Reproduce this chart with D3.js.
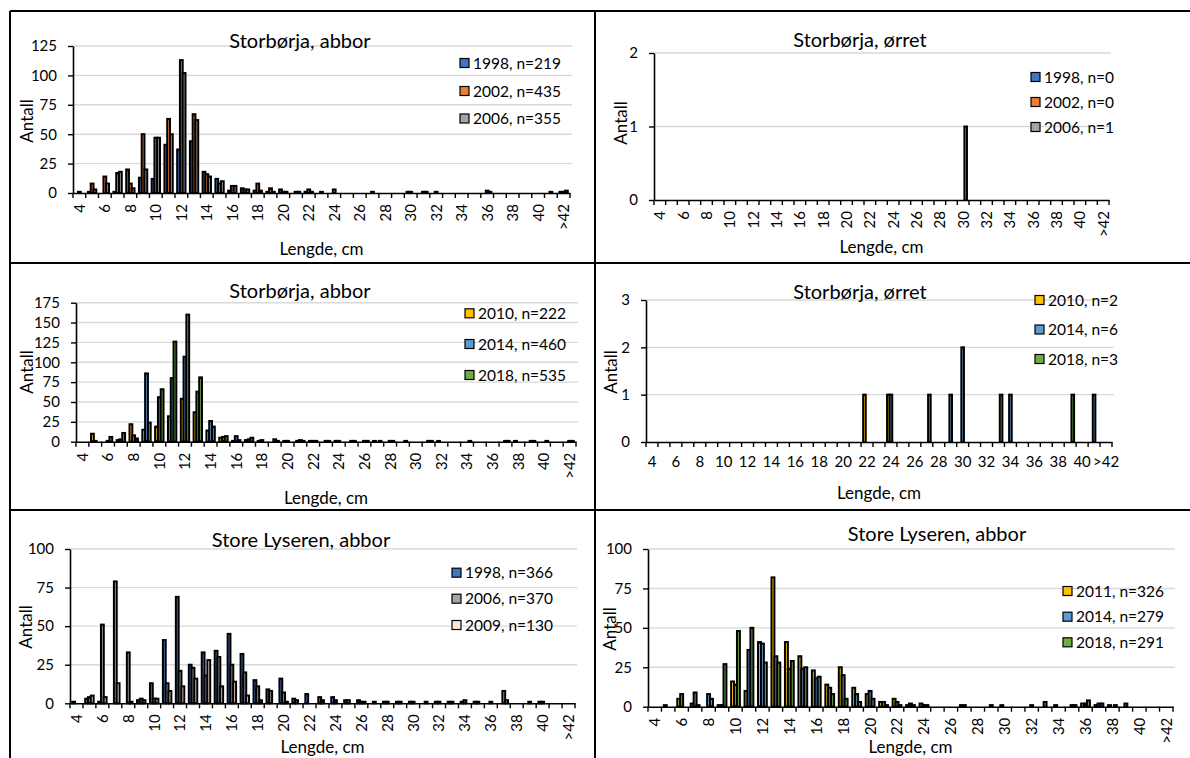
<!DOCTYPE html>
<html><head><meta charset="utf-8">
<script src="https://cdn.jsdelivr.net/npm/d3@7"></script>
<style>
body{margin:0;background:#fff;overflow:hidden;}
text{font-family:Lato,"Open Sans",sans-serif;fill:#000;}
</style></head><body>
<svg id="c" width="1190" height="758"></svg>
<script>
// ---------- DATA ----------
const categories = ["4","5","6","7","8","9","10","11","12","13","14","15","16","17","18","19","20","21","22","23","24","25","26","27","28","29","30","31","32","33","34","35","36","37","38","39","40","41",">42"];
const xTickLabels = ["4","6","8","10","12","14","16","18","20","22","24","26","28","30","32","34","36","38","40",">42"];

// Storbørja, abbor (1998/2002/2006)
const sbAbbor1998 = [0,1,0,1,20,13,12,41,37,44, 18,12,2,4,2,1,3,0,1,0, 0,0,0,0,0,0,1,0,0,0, 0,0,0,0,0,0,0,0,1];
const sbAbbor2002 = [1,8,14,17,8,50,47,63,113,67, 16,8,6,3,8,4,1,1,3,1, 3,0,0,1,0,0,1,1,1,0, 0,0,2,0,0,0,0,1,1];
const sbAbbor2006 = [0,3,8,18,4,20,47,50,102,62, 14,10,6,3,2,1,1,1,1,0, 0,0,0,0,0,0,0,1,0,0, 0,0,1,0,0,0,0,0,2];
// Storbørja, ørret (1998/2002/2006)
const sbOrret1998 = [0,0,0,0,0,0,0,0,0,0, 0,0,0,0,0,0,0,0,0,0, 0,0,0,0,0,0,0,0,0,0, 0,0,0,0,0,0,0,0,0];
const sbOrret2002 = [0,0,0,0,0,0,0,0,0,0, 0,0,0,0,0,0,0,0,0,0, 0,0,0,0,0,0,0,0,0,0, 0,0,0,0,0,0,0,0,0];
const sbOrret2006 = [0,0,0,0,0,0,0,0,0,0, 0,0,0,0,0,0,0,0,0,0, 0,0,0,0,0,0,1,0,0,0, 0,0,0,0,0,0,0,0,0];
// Storbørja, abbor (2010/2014/2018)
const sbAbbor2010 = [0,10,0,2,22,15,19,32,54,37, 14,5,1,2,1,0,1,1,1,0, 1,0,0,1,0,0,0,0,1,0, 0,0,0,0,1,0,0,0,0];
const sbAbbor2014 = [0,1,1,3,8,86,56,80,107,63, 26,6,7,3,2,3,1,2,1,1, 1,1,1,0,1,0,0,1,0,0, 0,0,0,1,0,1,0,0,1];
const sbAbbor2018 = [0,0,6,11,4,24,66,126,160,81, 19,7,2,5,0,1,0,1,1,1, 0,1,1,1,1,1,0,1,0,0, 1,0,0,1,0,1,1,0,1];
// Storbørja, ørret (2010/2014/2018)
const sbOrret2010 = [0,0,0,0,0,0,0,0,0,0, 0,0,0,0,0,0,0,0,1,0, 1,0,0,0,0,0,0,0,0,0, 0,0,0,0,0,0,0,0,0];
const sbOrret2014 = [0,0,0,0,0,0,0,0,0,0, 0,0,0,0,0,0,0,0,0,0, 1,0,0,0,0,1,2,0,0,0, 1,0,0,0,0,0,0,1,0];
const sbOrret2018 = [0,0,0,0,0,0,0,0,0,0, 0,0,0,0,0,0,0,0,0,0, 0,0,0,1,0,0,0,0,0,1, 0,0,0,0,0,1,0,0,0];
// Store Lyseren, abbor (1998/2006/2009)
const slAbbor1998 = [1,3,1,0,0,2,13,41,69,25, 33,34,45,32,15,9,16,3,6,4, 4,2,2,0,1,1,1,0,1,1, 1,1,0,0,0,0,1,0,0];
const slAbbor2006 = [0,4,51,79,33,3,3,13,21,23, 18,30,25,20,11,8,7,2,0,2, 2,2,1,1,1,1,1,1,1,1, 2,1,1,8,0,1,1,0,0];
const slAbbor2009 = [0,5,4,13,1,2,3,8,11,16, 28,11,14,5,2,0,1,0,0,0, 0,0,1,0,0,0,0,0,0,0, 0,0,0,2,0,0,0,0,0];
// Store Lyseren, abbor (2011/2014/2018)
const slAbbor2011 = [0,1,5,2,0,1,16,10,41,82, 41,32,23,14,25,12,8,3,5,1, 2,0,0,1,0,0,1,0,0,0, 1,0,2,1,1,0,0,0,0];
const slAbbor2014 = [0,0,8,9,8,1,14,36,40,32, 24,24,18,12,20,8,10,3,3,2, 1,0,0,1,0,1,0,0,1,3, 0,1,2,2,0,2,0,0,0];
const slAbbor2018 = [0,0,0,1,5,27,48,50,28,28, 29,25,19,8,5,3,5,1,1,1, 1,0,0,0,0,0,0,0,0,0, 0,1,4,2,1,0,0,0,0];

const legend1 = ["1998, n=219","2002, n=435","2006, n=355"];
const legend2 = ["1998, n=0","2002, n=0","2006, n=1"];
const legend3 = ["2010, n=222","2014, n=460","2018, n=535"];
const legend4 = ["2010, n=2","2014, n=6","2018, n=3"];
const legend5 = ["1998, n=366","2006, n=370","2009, n=130"];
const legend6 = ["2011, n=326","2014, n=279","2018, n=291"];

const yTicks1 = [0,25,50,75,100,125];
const yTicks2 = [0,1,2];
const yTicks3 = [0,25,50,75,100,125,150,175];
const yTicks4 = [0,1,2,3];
const yTicks5 = [0,25,50,75,100];
const yTicks6 = [0,25,50,75,100];

// ---------- STYLE / LAYOUT ----------
const colA = ["#4472C4","#ED7D31","#A5A5A5"];
const colB = ["#FFC000","#5B9BD5","#70AD47"];
const colC = ["#4472C4","#A5A5A5","#FBE5D6"];

const panels = [
  {title:"Storbørja, abbor", tx:300, ty:48, left:73, right:570, bottom:193, top:46, ticks:yTicks1,
   series:[sbAbbor1998,sbAbbor2002,sbAbbor2006], colors:colA, legend:legend1, lx:460, ly:[63,91,118.5],
   ax:27, ay:121, xty:255, rot:true},
  {title:"Storbørja, ørret", tx:860, ty:47, left:654, right:1109, bottom:200, top:53, ticks:yTicks2,
   series:[sbOrret1998,sbOrret2002,sbOrret2006], colors:colA, legend:legend2, lx:1031, ly:[77,102,127],
   ax:621, ay:123, xty:253, rot:true},
  {title:"Storbørja, abbor", tx:300, ty:298, left:76, right:576, bottom:441.7, top:302.7, ticks:yTicks3,
   series:[sbAbbor2010,sbAbbor2014,sbAbbor2018], colors:colB, legend:legend3, lx:465, ly:[313.3,344,375],
   ax:27, ay:372, xty:504, rot:true},
  {title:"Storbørja, ørret", tx:860, ty:299, left:646, right:1112, bottom:442, top:300, ticks:yTicks4,
   series:[sbOrret2010,sbOrret2014,sbOrret2018], colors:colB, legend:legend4, lx:1035, ly:[300,329.5,359],
   ax:611, ay:372, xty:499, rot:false},
  {title:"Store Lyseren, abbor", tx:301, ty:547, left:70, right:575, bottom:703.3, top:549, ticks:yTicks5,
   series:[slAbbor1998,slAbbor2006,slAbbor2009], colors:colC, legend:legend5, lx:452, ly:[572.7,598.7,625],
   ax:26, ay:627, xty:753, rot:true},
  {title:"Store Lyseren, abbor", tx:937, ty:541, left:648, right:1173, bottom:706.7, top:549, ticks:yTicks6,
   series:[slAbbor2011,slAbbor2014,slAbbor2018], colors:colB, legend:legend6, lx:1063, ly:[591,616.7,642.3],
   ax:610, ay:629, xty:753, rot:true}
];

const svg = d3.select("#c");
const FONT = "Lato, 'Open Sans', sans-serif";

function drawPanel(p){
  const g = svg.append("g");
  const maxV = p.ticks[p.ticks.length-1];
  const x = d3.scaleBand().domain(categories).range([p.left, p.right]).paddingInner(0).paddingOuter(0);
  const xs = d3.scaleBand().domain([0,1,2]).range([0, x.bandwidth()]).paddingInner(0).paddingOuter(0.8);
  const y = d3.scaleLinear().domain([0, maxV]).range([p.bottom, p.top]);

  // gridlines
  g.append("g").selectAll("line").data(p.ticks.filter(v=>v>0)).join("line")
    .attr("x1", p.left).attr("x2", p.right+2)
    .attr("y1", d=>y(d)).attr("y2", d=>y(d))
    .attr("stroke","#d9d9d9").attr("stroke-width",1.4);

  // bars
  p.series.forEach((vals, si)=>{
    const data = vals.map((v,i)=>({v, c:categories[i]})).filter(d=>d.v>0);
    g.append("g").selectAll("rect").data(data).join("rect")
      .attr("x", d=>x(d.c)+xs(si))
      .attr("width", xs.bandwidth())
      .attr("y", d=>y(d.v))
      .attr("height", d=>y(0)-y(d.v))
      .attr("fill", p.colors[si])
      .attr("stroke","#000").attr("stroke-width",2);
  });

  // y axis
  const yAxis = g.append("g").attr("transform",`translate(${p.left},0)`)
    .call(d3.axisLeft(y).tickValues(p.ticks).tickFormat(d3.format("d")).tickSize(5).tickPadding(11).tickSizeOuter(0));
  yAxis.attr("font-family",FONT).attr("font-size",15);
  yAxis.select(".domain").attr("stroke","#000").attr("stroke-width",1.6);
  yAxis.selectAll(".tick line").attr("stroke","#000").attr("stroke-width",1.4);

  // x axis baseline + boundary ticks
  const xAxis = g.append("g").attr("transform",`translate(0,${p.bottom})`)
    .call(d3.axisBottom(x).tickValues(xTickLabels).tickSize(0).tickPadding(p.rot?11:14).tickSizeOuter(0));
  xAxis.attr("font-family",FONT).attr("font-size",15);
  xAxis.select(".domain").attr("stroke","#000").attr("stroke-width",1.6);
  if(p.rot){
    xAxis.selectAll(".tick text")
      .attr("transform","rotate(-90)")
      .attr("text-anchor","end")
      .attr("x",-11).attr("y",0).attr("dy","0.36em");
  }
  const bounds = categories.map(c=>x(c)).concat([p.right]);
  g.append("g").selectAll("line").data(bounds).join("line")
    .attr("x1",d=>d).attr("x2",d=>d)
    .attr("y1",p.bottom).attr("y2",p.bottom+5)
    .attr("stroke","#000").attr("stroke-width",1.4);

  // title
  g.append("text").attr("x",p.tx).attr("y",p.ty).attr("text-anchor","middle")
    .attr("font-size",20).text(p.title);
  // axis titles
  g.append("text").attr("transform",`translate(${p.ax},${p.ay}) rotate(-90)`)
    .attr("text-anchor","middle").attr("dy","0.35em").attr("font-size",17).text("Antall");
  g.append("text").attr("x",(p.left+p.right)/2).attr("y",p.xty).attr("text-anchor","middle")
    .attr("font-size",17).text("Lengde, cm");

  // legend
  const lg = g.append("g");
  p.legend.forEach((t,i)=>{
    lg.append("rect").attr("x",p.lx).attr("y",p.ly[i]-4.5).attr("width",9).attr("height",9)
      .attr("fill",p.colors[i]).attr("stroke","#000").attr("stroke-width",1.2);
    lg.append("text").attr("x",p.lx+13).attr("y",p.ly[i]).attr("dy","0.36em")
      .attr("font-size",15.5).text(t);
  });
}

panels.forEach(drawPanel);

// frame
const frame = svg.append("g").attr("stroke","#000").attr("stroke-width",2);
frame.append("line").attr("x1",10).attr("x2",10).attr("y1",11).attr("y2",760);
frame.append("line").attr("x1",10).attr("x2",1192).attr("y1",11).attr("y2",11);
frame.append("line").attr("x1",595).attr("x2",595).attr("y1",11).attr("y2",760);
frame.append("line").attr("x1",10).attr("x2",1192).attr("y1",263).attr("y2",263);
frame.append("line").attr("x1",10).attr("x2",1192).attr("y1",510).attr("y2",510);
</script>
</body></html>
